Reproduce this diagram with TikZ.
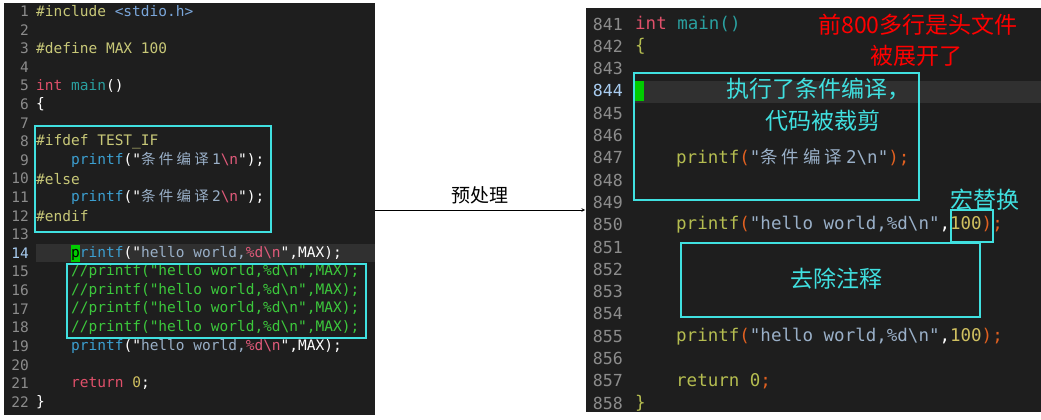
\documentclass[tikz,border=0pt]{standalone}
\usepackage{fontspec}
\newfontfamily\code{DejaVu Sans Mono}
\newfontfamily\cjk{Noto Sans CJK SC}
\definecolor{bg}{HTML}{1E1E1E}
\definecolor{ln}{HTML}{8C8C8C}
\definecolor{lnc}{HTML}{A8CCF0}
\definecolor{pp}{HTML}{C8C878}
\definecolor{inc}{HTML}{7AA6DA}
\definecolor{kw}{HTML}{E0506A}
\definecolor{fn}{HTML}{2AA0A0}
\definecolor{pf}{HTML}{3C9FD0}
\definecolor{st}{HTML}{9AB0C8}
\definecolor{es}{HTML}{E05A7A}
\definecolor{cm}{HTML}{3CC83C}
\definecolor{nm}{HTML}{D0C060}
\definecolor{rpf}{HTML}{B5BD50}
\definecolor{par}{HTML}{E06020}
\definecolor{box}{HTML}{40E0E0}
\definecolor{hl}{HTML}{303030}
\begin{document}
\begin{tikzpicture}[x=1pt,y=-1pt,
  lc/.style={anchor=west,inner sep=0pt,font=\code\fontsize{14.5}{16}\selectfont,text=white},
  rc/.style={anchor=west,inner sep=0pt,font=\code\fontsize{17.5}{19}\selectfont,text=white},
  lnl/.style={anchor=east,inner sep=0pt,font=\code\fontsize{14.5}{16}\selectfont,text=ln},
  lnr/.style={anchor=east,inner sep=0pt,font=\code\fontsize{16.6}{19}\selectfont,text=ln},
  cbox/.style={draw=box,line width=1.2pt},
  note/.style={inner sep=0pt,font=\cjk\fontsize{23}{25}\selectfont,text=box}]
\useasboundingbox (0,0) rectangle (1041,420);
\fill[white] (0,0) rectangle (1041,420);
% left panel
\fill[bg] (4,3) rectangle (375,415);
\fill[hl] (36,244) rectangle (375,262);
\foreach \i in {1,...,22}{
  \pgfmathsetmacro\yy{11+(\i-1)*18.62}
  \ifnum\i=14 \node[lnl,text=lnc] (ln\i) at (29,\yy) {\i};
  \else \node[lnl] (ln\i) at (29,\yy) {\i};\fi}
\def\Y#1{11+(#1-1)*18.62}
\node[lc] (c1) at (36,{\Y{1}}) {\textcolor{pp}{\#include} \textcolor{inc}{<stdio.h>}};
\node[lc] (c3) at (36,{\Y{3}}) {\textcolor{pp}{\#define MAX 100}};
\node[lc] (c5) at (36,{\Y{5}}) {\textcolor{kw}{int} \textcolor{fn}{main}()};
\node[lc] (c6) at (36,{\Y{6}}) {\{};
\node[lc] (c8) at (36,{\Y{8}}) {\textcolor{pp}{\#ifdef TEST\_IF}};
\node[lc] (c9) at (36,{\Y{9}}) {\hspace*{35pt}\textcolor{pf}{printf}("\textcolor{st}{{\cjk 条 件 编 译 }1}\textcolor{es}{\textbackslash n}");};
\node[lc] (c10) at (36,{\Y{10}}) {\textcolor{pp}{\#else}};
\node[lc] (c11) at (36,{\Y{11}}) {\hspace*{35pt}\textcolor{pf}{printf}("\textcolor{st}{{\cjk 条 件 编 译 }2}\textcolor{es}{\textbackslash n}");};
\node[lc] (c12) at (36,{\Y{12}}) {\textcolor{pp}{\#endif}};
\fill[green!80!black] (70.5,245) rectangle (79.5,262);
\node[lc] (c14) at (71,{\Y{14}}) {\textcolor{black}{p}\textcolor{pf}{rintf}("\textcolor{st}{hello world,}\textcolor{es}{\%d\textbackslash n}",MAX);};
\foreach \i in {15,...,18}{
  \node[lc,text=cm] (c\i) at (71,{\Y{\i}}) {//printf("hello world,\%d\textbackslash n",MAX);};}
\node[lc] (c19) at (71,{\Y{19}}) {\textcolor{pf}{printf}("\textcolor{st}{hello world,}\textcolor{es}{\%d\textbackslash n}",MAX);};
\node[lc] (c21) at (71,{\Y{21}}) {\textcolor{kw}{return} \textcolor{nm}{0};};
\node[lc] (c22) at (36,{\Y{22}}) {\}};
\draw[cbox] (35,126) rectangle (271,232);
\draw[cbox] (67,264) rectangle (366,338);
% right panel
\fill[bg] (586,8) rectangle (1041,412);
\fill[hl] (635,81) rectangle (1041,103);
\foreach \i in {841,...,858}{
  \pgfmathsetmacro\yy{24+(\i-841)*22.3}
  \ifnum\i=844 \node[lnr,text=lnc] (rn\i) at (623,\yy) {\i};
  \else \node[lnr] (rn\i) at (623,\yy) {\i};\fi}
\def\R#1{24+(#1-841)*22.3}
\node[rc] (r841) at (635,{\R{841}}) {\textcolor{kw}{int} \textcolor{fn}{main()}};
\node[rc] (r842) at (635,{\R{842}}) {\textcolor{rpf}{\{}};
\fill[green!80!black] (634,81) rectangle (644,101);
\node[rc] (r847) at (676,{\R{847}}) {\textcolor{rpf}{printf}\textcolor{par}{(}\textcolor{st}{"{\cjk 条 件 编 译 }2\textbackslash n"}\textcolor{par}{);}};
\node[rc] (r850) at (676,{\R{850}}) {\textcolor{rpf}{printf}\textcolor{par}{(}\textcolor{st}{"hello world,\%d\textbackslash n"},\textcolor{nm}{100}\textcolor{par}{);}};
\node[rc] (r855) at (676,{\R{855}}) {\textcolor{rpf}{printf}\textcolor{par}{(}\textcolor{st}{"hello world,\%d\textbackslash n"},\textcolor{nm}{100}\textcolor{par}{);}};
\node[rc] (r857) at (676,{\R{857}}) {\textcolor{rpf}{return} \textcolor{rpf}{0}\textcolor{par}{;}};
\node[rc] (r858) at (635,{\R{858}}) {\textcolor{rpf}{\}}};
\draw[cbox] (634,73) rectangle (919,200);
\draw[cbox] (951,210) rectangle (993,242);
\draw[cbox] (681,243) rectangle (980,317);
\node[note,text=red] (n1) at (918,25) {前800多行是头文件};
\node[note,text=red] (n2) at (916,56) {被展开了};
\node[note] (n3) at (818,89) {执行了条件编译，};
\node[note] (n4) at (823,121) {代码被裁剪};
\node[note] (n5) at (985,200) {宏替换};
\node[note] (n6) at (836,279) {去除注释};
% arrow
\coordinate (a1) at (375,210);
\coordinate (a2) at (585,210);
\draw[-stealth,line width=0.6pt] (a1) -- node[above=2pt,font=\cjk\fontsize{19}{21}\selectfont] (lab) {预处理} (a2);
\end{tikzpicture}
\end{document}
